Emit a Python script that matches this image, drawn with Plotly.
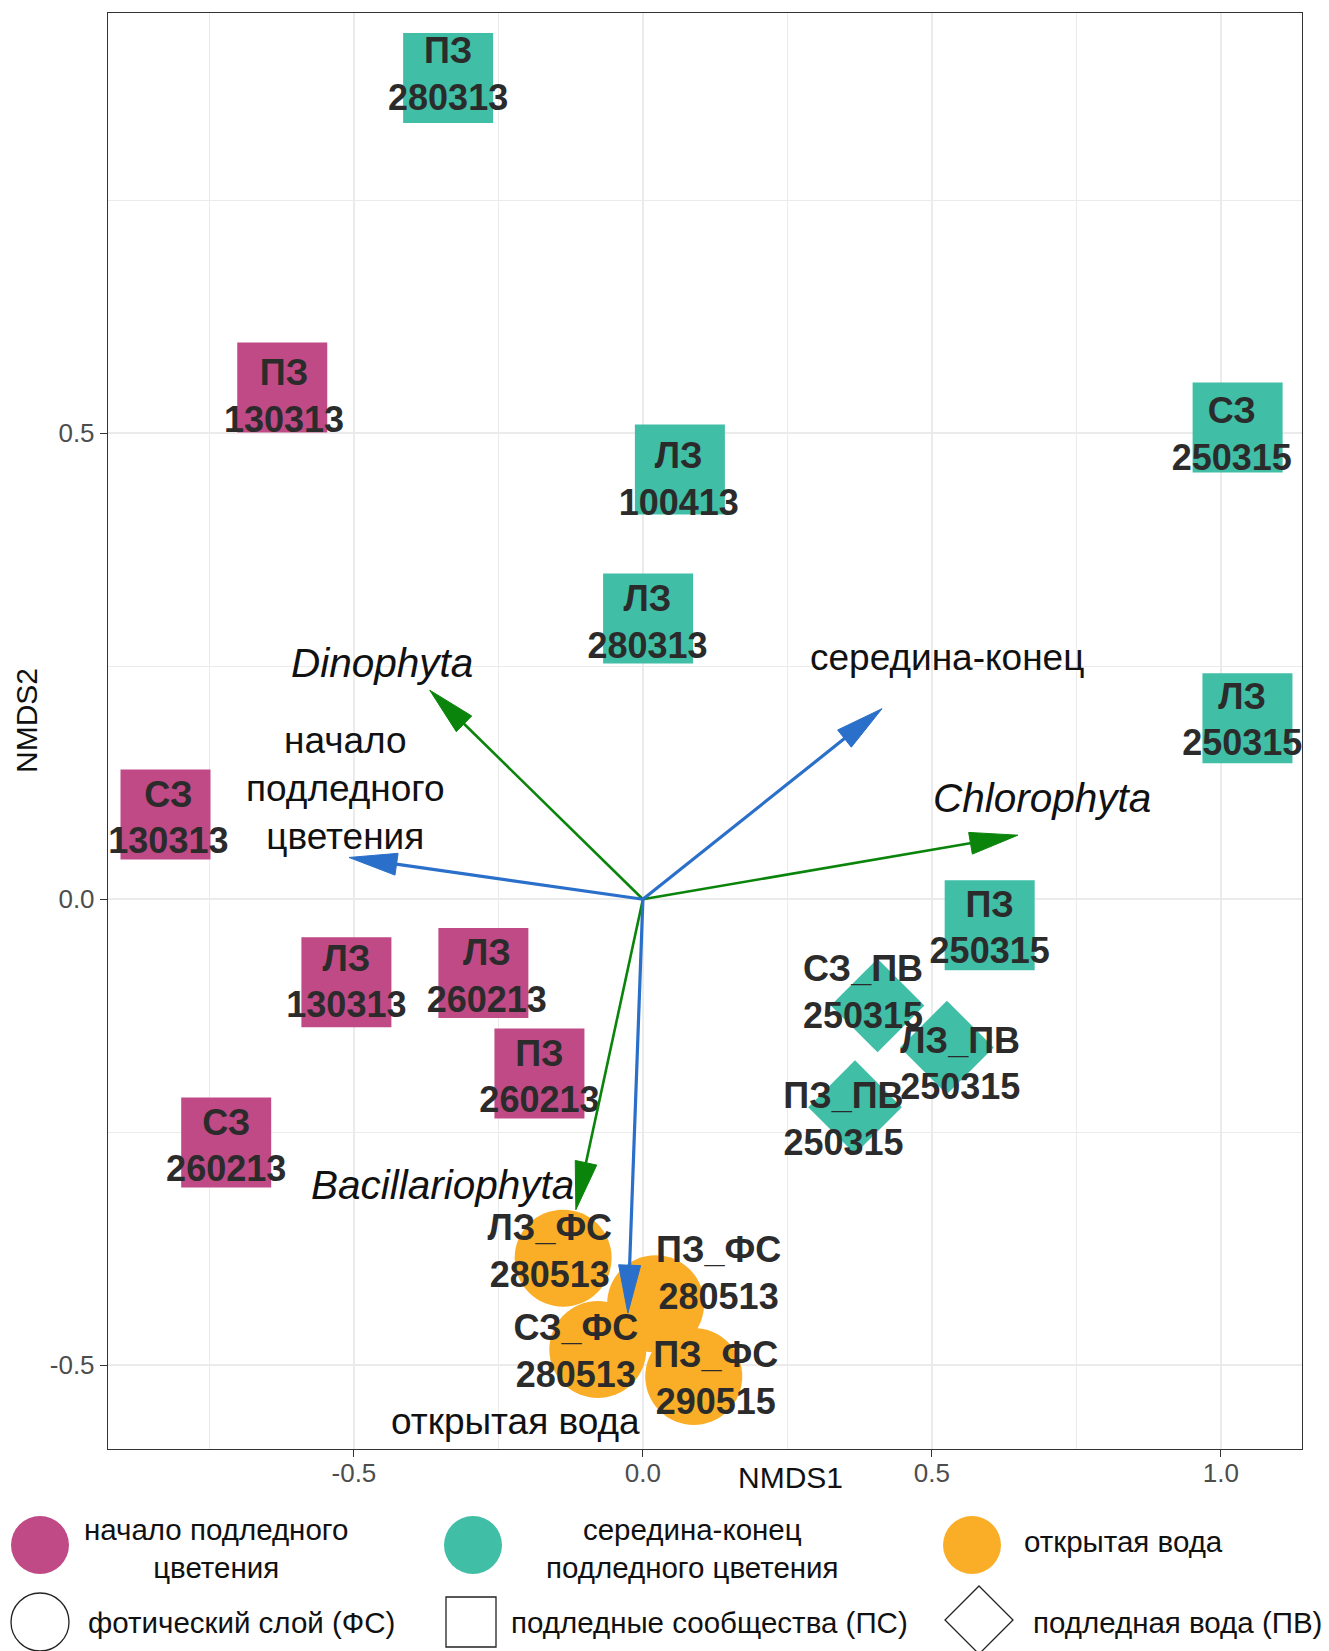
import math
import plotly.graph_objects as go

# ---- NMDS site scores ----------------------------------------------------
site_labels = [
    "ПЗ<br>280313", "ПЗ<br>130313", "ЛЗ<br>100413", "СЗ<br>250315",
    "ЛЗ<br>280313", "ЛЗ<br>250315", "СЗ<br>130313", "ПЗ<br>250315",
    "ЛЗ<br>130313", "ЛЗ<br>260213", "ПЗ<br>260213", "СЗ<br>260213",
    "СЗ_ПВ<br>250315", "ЛЗ_ПВ<br>250315", "ПЗ_ПВ<br>250315",
    "ЛЗ_ФС<br>280513", "ПЗ_ФС<br>280513", "СЗ_ФС<br>280513", "ПЗ_ФС<br>290515",
]
nmds1 = [-0.337, -0.624, 0.064, 1.029, 0.009, 1.046, -0.826, 0.600,
         -0.513, -0.276, -0.179, -0.721,
         0.406, 0.526, 0.367,
         -0.138, 0.022, -0.078, 0.088]
nmds2 = [0.881, 0.549, 0.461, 0.506, 0.301, 0.194, 0.091, -0.028,
         -0.089, -0.079, -0.187, -0.261,
         -0.114, -0.159, -0.223,
         -0.385, -0.434, -0.483, -0.512]
# label anchor positions (repelled where labels crowd)
label_x = [-0.337, -0.621, 0.062, 1.019, 0.008, 1.037, -0.821, 0.600,
           -0.513, -0.270, -0.179, -0.721,
           0.381, 0.549, 0.347,
           -0.161, 0.131, -0.116, 0.126]
label_y = [0.881, 0.536, 0.447, 0.495, 0.294, 0.189, 0.084, -0.034,
           -0.092, -0.086, -0.194, -0.268,
           -0.103, -0.180, -0.2395,
           -0.3815, -0.405, -0.488, -0.517]
phase = ["mid", "start", "mid", "mid", "mid", "mid", "start", "mid",
         "start", "start", "start", "start",
         "mid", "mid", "mid",
         "open", "open", "open", "open"]
layer = ["PS"] * 12 + ["PV"] * 3 + ["FS"] * 4

# ---- fitted vectors --------------------------------------------------------
env_names = ["начало<br>подледного<br>цветения", "середина-конец", "открытая вода"]
env_x = [-0.5085, 0.4137, -0.026]
env_y = [0.0448, 0.2044, -0.444]
env_lab_x = [-0.514, 0.526, -0.220]
env_lab_y = [0.119, 0.259, -0.560]

taxa_names = ["Dinophyta", "Chlorophyta", "Bacillariophyta"]
taxa_x = [-0.3688, 0.6487, -0.116]
taxa_y = [0.2242, 0.0687, -0.333]
taxa_lab_x = [-0.452, 0.690, -0.3475]
taxa_lab_y = [0.253, 0.109, -0.306]

# ---- legend entries ----------------------------------------------------------
phase_keys = ["start", "mid", "open"]
phase_names = ["начало подледного<br>цветения", "середина-конец<br>подледного цветения", "открытая вода"]
layer_keys = ["FS", "PS", "PV"]
layer_names = ["фотический слой (ФС)", "подледные сообщества (ПС)", "подледная вода (ПВ)"]

# ---- styling ---------------------------------------------------------------
PHASE_COLOR = {"start": "#BF4A86", "mid": "#40BEA6", "open": "#FAAE27"}
LAYER_SYMBOL = {"PS": "square", "PV": "diamond", "FS": "circle"}
LAYER_SIZE = {"PS": 90, "PV": 72, "FS": 97}
ENV_COLOR = "#2A6FC9"
TAXA_COLOR = "#0A840A"
FONT = "Liberation Sans, Arial, sans-serif"

W, H = 1329, 1651
ML, MR, MT, MB = 108, 27, 13, 202
PW, PH = W - ML - MR, H - MT - MB
XR = [-0.9255, 1.1404]
YR = [-0.5897, 0.9506]
SX = PW / (XR[1] - XR[0])
SY = PH / (YR[1] - YR[0])

fig = go.Figure()

# sample points
fig.add_trace(go.Scatter(
    x=nmds1, y=nmds2, mode="markers", hoverinfo="skip", showlegend=False,
    marker=dict(
        color=[PHASE_COLOR[p] for p in phase],
        symbol=[LAYER_SYMBOL[l] for l in layer],
        size=[LAYER_SIZE[l] for l in layer],
        line=dict(width=0),
        opacity=1,
    ),
))

# sample labels
fig.add_trace(go.Scatter(
    x=label_x, y=label_y, mode="text", text=site_labels, hoverinfo="skip",
    showlegend=False, textposition="middle center",
    textfont=dict(family=FONT, size=36, color="#2b2b2b", weight="bold"),
))


def arrow(x1, y1, color, width, head_len=48, head_w=22):
    """Shaft from the origin plus a filled head, sized in screen pixels."""
    dx, dy = x1 * SX, y1 * SY
    n = math.hypot(dx, dy)
    ux, uy = dx / n, dy / n
    bx, by = x1 - ux * head_len / SX, y1 - uy * head_len / SY
    px, py = -uy * head_w / 2, ux * head_w / 2
    sx_end = x1 - ux * head_len * 0.7 / SX
    sy_end = y1 - uy * head_len * 0.7 / SY
    fig.add_trace(go.Scatter(
        x=[0, sx_end], y=[0, sy_end], mode="lines", hoverinfo="skip",
        showlegend=False, line=dict(color=color, width=width),
    ))
    fig.add_trace(go.Scatter(
        x=[x1, bx + px / SX, bx - px / SX, x1],
        y=[y1, by + py / SY, by - py / SY, y1],
        mode="lines", fill="toself", fillcolor=color, hoverinfo="skip",
        showlegend=False, line=dict(color=color, width=1),
    ))


for vx, vy in zip(taxa_x, taxa_y):
    arrow(vx, vy, TAXA_COLOR, 2.6)
for vx, vy in zip(env_x, env_y):
    arrow(vx, vy, ENV_COLOR, 3.2)

annotations = []
for name, lx, ly in zip(env_names, env_lab_x, env_lab_y):
    annotations.append(dict(
        x=lx, y=ly, xref="x", yref="y", text=name, showarrow=False,
        font=dict(family=FONT, size=37, color="#111111"),
        xanchor="center", yanchor="middle", align="center",
    ))
for name, lx, ly in zip(taxa_names, taxa_lab_x, taxa_lab_y):
    annotations.append(dict(
        x=lx, y=ly, xref="x", yref="y", text=f"<i>{name}</i>", showarrow=False,
        font=dict(family=FONT, size=40.5, color="#111111"),
        xanchor="center", yanchor="middle",
    ))

# axis titles
annotations.append(dict(
    x=(790 - ML) / PW, y=(MT + PH - 1478) / PH, xref="paper", yref="paper",
    text="NMDS1", showarrow=False, font=dict(family=FONT, size=30, color="#111111"),
    xanchor="center", yanchor="middle",
))
annotations.append(dict(
    x=(26 - ML) / PW, y=(MT + PH - 721) / PH, xref="paper", yref="paper",
    text="NMDS2", showarrow=False, textangle=-90,
    font=dict(family=FONT, size=30, color="#111111"),
    xanchor="center", yanchor="middle",
))


# ---- legend drawn below the panel -----------------------------------------
def px_x(v):
    return (v - ML) / PW


def px_y(v):
    return (MT + PH - v) / PH


shapes = []
row1, row2 = 1545, 1622
key_x = [40, 473, 972]
text_x1 = [216, 692, 1123]
text_y1 = [row1 + 3, row1 + 3, row1 - 3]
text_x2 = [241, 709, 1177]
R = 29
for k, cx, tx, ty, name in zip(phase_keys, key_x, text_x1, text_y1, phase_names):
    shapes.append(dict(
        type="circle", xref="paper", yref="paper",
        x0=px_x(cx - R), x1=px_x(cx + R), y0=px_y(row1 + R), y1=px_y(row1 - R),
        fillcolor=PHASE_COLOR[k], line=dict(width=0),
    ))
    annotations.append(dict(
        x=px_x(tx), y=px_y(ty), xref="paper", yref="paper", text=name,
        showarrow=False, align="center", xanchor="center", yanchor="middle",
        font=dict(family=FONT, size=29.5, color="#111111"),
    ))

layer_key_x = [40, 471, 979]
for k, cx, tx, name in zip(layer_keys, layer_key_x, text_x2, layer_names):
    if k == "FS":
        shapes.append(dict(
            type="circle", xref="paper", yref="paper",
            x0=px_x(cx - R), x1=px_x(cx + R), y0=px_y(row2 + R), y1=px_y(row2 - R),
            fillcolor="white", line=dict(color="#222222", width=1.3),
        ))
    elif k == "PS":
        s = 25
        shapes.append(dict(
            type="rect", xref="paper", yref="paper",
            x0=px_x(cx - s), x1=px_x(cx + s), y0=px_y(row2 + s), y1=px_y(row2 - s),
            fillcolor="white", line=dict(color="#222222", width=1.3),
        ))
    else:
        d = 34
        cy = row2 - 2
        path = (f"M{px_x(cx)},{px_y(cy - d)} L{px_x(cx + d)},{px_y(cy)} "
                f"L{px_x(cx)},{px_y(cy + d)} L{px_x(cx - d)},{px_y(cy)} Z")
        shapes.append(dict(
            type="path", xref="paper", yref="paper", path=path,
            fillcolor="white", line=dict(color="#222222", width=1.3),
        ))
    annotations.append(dict(
        x=px_x(tx), y=px_y(row2), xref="paper", yref="paper", text=name,
        showarrow=False, xanchor="center", yanchor="middle",
        font=dict(family=FONT, size=29.5, color="#111111"),
    ))

axis_common = dict(
    showgrid=True, gridcolor="#EBEBEB", gridwidth=1.5, zeroline=False,
    showline=True, mirror=True, linecolor="#333333", linewidth=1.4,
    ticks="outside", ticklen=7, tickwidth=1.4, tickcolor="#333333",
    tickfont=dict(family=FONT, size=26, color="#4D4D4D"),
)

fig.update_xaxes(
    range=XR, tickvals=[-0.5, 0.0, 0.5, 1.0], ticktext=["-0.5", "0.0", "0.5", "1.0"],
    minor=dict(tickvals=[-0.75, -0.25, 0.25, 0.75], showgrid=True,
               gridcolor="#EBEBEB", gridwidth=1.1),
    ticklabelstandoff=-6,
    **axis_common,
)
fig.update_yaxes(
    range=YR, tickvals=[-0.5, 0.0, 0.5], ticktext=["-0.5", "0.0", "0.5"],
    minor=dict(tickvals=[-0.25, 0.25, 0.75], showgrid=True,
               gridcolor="#EBEBEB", gridwidth=1.1),
    **axis_common,
)

fig.update_layout(
    width=W, height=H,
    margin=dict(l=ML, r=MR, t=MT, b=MB, autoexpand=False),
    paper_bgcolor="white", plot_bgcolor="white",
    showlegend=False,
    annotations=annotations, shapes=shapes,
    font=dict(family=FONT),
)

fig.write_html("out.html")
